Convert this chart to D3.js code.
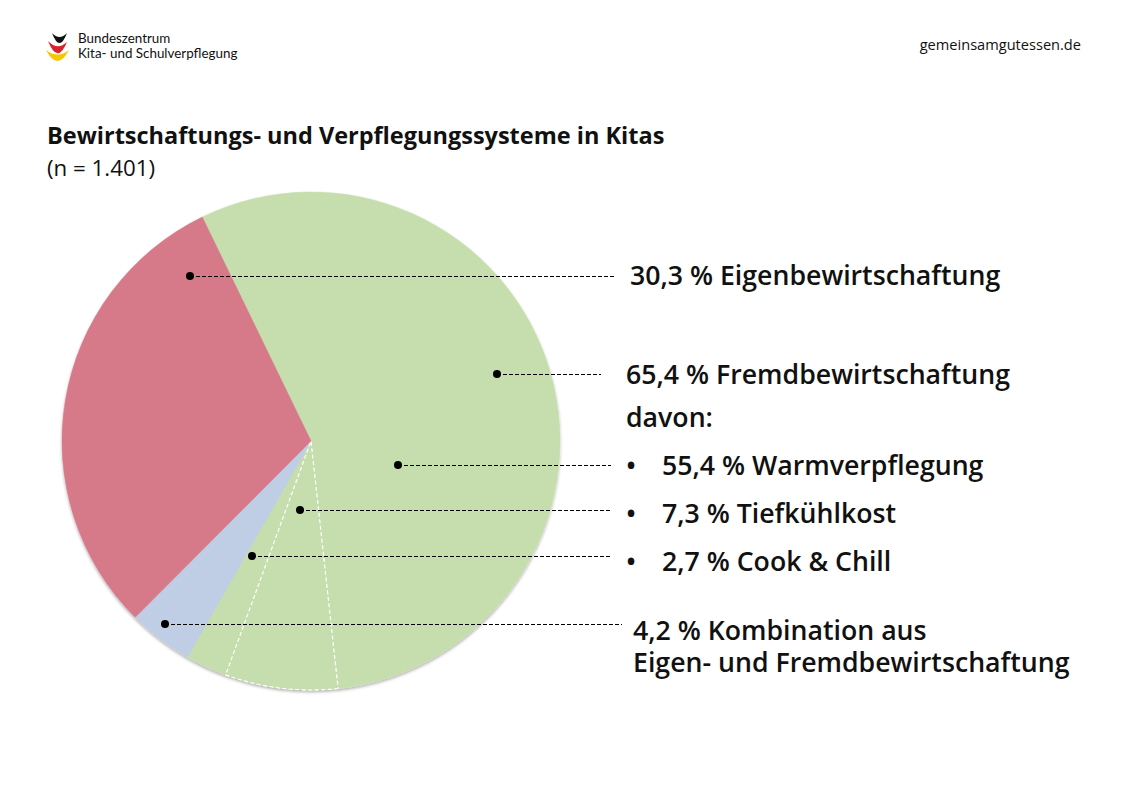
<!DOCTYPE html>
<html>
<head>
<meta charset="utf-8">
<script src="https://cdn.jsdelivr.net/npm/d3@7"></script>
<style>
  body { margin: 0; background: #fff; }
  text { font-family: "Open Sans", sans-serif; fill: #111; }
  .label { font-size: 26.7px; font-weight: 600; }
  .leader { stroke: #000; stroke-width: 1; stroke-dasharray: 4 2; fill: none; shape-rendering: crispEdges; }
</style>
</head>
<body>
<main></main>
<script>
var segments = ["Warmverpflegung", "Tiefkühlkost", "Cook & Chill", "Kombination", "Eigenbewirtschaftung"];
var shares = [55.4, 7.3, 2.7, 4.2, 30.3];
var segmentColors = ["#c6deae", "#c6deae", "#c6deae", "#bfcde5", "#d67a8a"];

var title = "Bewirtschaftungs- und Verpflegungssysteme in Kitas";
var subtitle = "(n = 1.401)";
var labelLines = [
  "30,3 % Eigenbewirtschaftung",
  "65,4 % Fremdbewirtschaftung",
  "davon:",
  "55,4 % Warmverpflegung",
  "7,3 % Tiefkühlkost",
  "2,7 % Cook & Chill",
  "4,2 % Kombination aus",
  "Eigen- und Fremdbewirtschaftung"
];
var logoLines = ["Bundeszentrum", "Kita- und Schulverpflegung"];
var website = "gemeinsamgutessen.de";

var width = 1123;
var height = 794;

var svg = d3.select("main").append("svg")
    .attr("width", width)
    .attr("height", height)
    .style("display", "block");

var defs = svg.append("defs");
var shadow = defs.append("filter")
    .attr("id", "pieShadow")
    .attr("x", "-5%").attr("y", "-5%")
    .attr("width", "110%").attr("height", "110%");
shadow.append("feDropShadow")
    .attr("dx", 0).attr("dy", 2)
    .attr("stdDeviation", 1.5)
    .attr("flood-color", "#000")
    .attr("flood-opacity", 0.3);

// pie
var cx = 311, cy = 441, radius = 249;
var startAngle = -25.9 * Math.PI / 180;

var pie = d3.pie()
    .sort(null)
    .startAngle(startAngle)
    .endAngle(startAngle + 2 * Math.PI);
var arc = d3.arc().innerRadius(0).outerRadius(radius);
var arcs = pie(shares);

var pieGroup = svg.append("g").attr("transform", "translate(" + cx + "," + cy + ")");

pieGroup.append("g")
    .attr("filter", "url(#pieShadow)")
  .selectAll("path")
  .data(arcs)
  .join("path")
    .attr("d", arc)
    .attr("fill", function(d, i) { return segmentColors[i]; })
    .attr("stroke", function(d, i) { return segmentColors[i]; })
    .attr("stroke-width", 0.5);

// Tiefkühlkost and Cook & Chill are only set off by white dashes
pieGroup.append("path")
    .attr("d", arc(arcs[1]))
    .attr("fill", "none")
    .attr("stroke", "#fff")
    .attr("stroke-width", 1.2)
    .attr("stroke-dasharray", "4 2.5");

// leaders, one per label
var leaders = [
  { x1: 190, x2: 614, y: 276 },
  { x1: 497, x2: 601, y: 374 },
  { x1: 398, x2: 611, y: 465 },
  { x1: 300, x2: 611, y: 510 },
  { x1: 252, x2: 611, y: 556 },
  { x1: 165, x2: 622, y: 624 }
];
svg.selectAll("line.leader")
  .data(leaders)
  .join("line")
    .attr("class", "leader")
    .attr("x1", function(d) { return d.x1; })
    .attr("x2", function(d) { return d.x2; })
    .attr("y1", function(d) { return d.y; })
    .attr("y2", function(d) { return d.y; });
svg.selectAll("circle.dot")
  .data(leaders)
  .join("circle")
    .attr("class", "dot")
    .attr("cx", function(d) { return d.x1; })
    .attr("cy", function(d) { return d.y; })
    .attr("r", 4)
    .attr("fill", "#000");

// labels
var labelPos = [[630, 285], [626, 384], [626, 427], [662, 475], [662, 523], [662, 571], [633, 640], [633, 672]];
svg.selectAll("text.label")
  .data(labelLines)
  .join("text")
    .attr("class", "label")
    .attr("x", function(d, i) { return labelPos[i][0]; })
    .attr("y", function(d, i) { return labelPos[i][1]; })
    .text(function(d) { return d; });

svg.selectAll("text.bullet")
  .data([475, 523, 571])
  .join("text")
    .attr("class", "bullet label")
    .attr("x", 626)
    .attr("y", function(d) { return d; })
    .text("•");

// heading
svg.append("text")
    .attr("x", 47).attr("y", 144)
    .style("font-size", "23.5px").style("font-weight", 700)
    .text(title);
svg.append("text")
    .attr("x", 47).attr("y", 176)
    .style("font-size", "22.3px")
    .text(subtitle);

svg.append("text")
    .attr("x", 1081).attr("y", 50)
    .attr("text-anchor", "end")
    .style("font-size", "14.6px")
    .style("font-weight", 500)
    .text(website);

// logo
var logo = svg.append("g");
var logoArcs = [
  { color: "#111", x0: 52, y0: 33, x1: 67, y1: 33, outer: 20, inner: 8 },
  { color: "#d8232a", x0: 48, y0: 41, x1: 67, y1: 42, outer: 24, inner: 10 },
  { color: "#f7c600", x0: 46, y0: 50, x1: 69, y1: 50, outer: 22, inner: 9 }
];
logo.selectAll("path")
  .data(logoArcs)
  .join("path")
    .attr("d", function(d) {
      var p = d3.path();
      var mx = (d.x0 + d.x1) / 2;
      p.moveTo(d.x0, d.y0);
      p.quadraticCurveTo(mx, d.y0 + d.outer, d.x1, d.y1);
      p.quadraticCurveTo(mx, d.y0 + d.inner, d.x0, d.y0);
      p.closePath();
      return p.toString();
    })
    .attr("fill", function(d) { return d.color; });
logo.selectAll("text")
  .data(logoLines)
  .join("text")
    .attr("x", 78)
    .attr("y", function(d, i) { return 43 + i * 15; })
    .style("font-family", "Lato, sans-serif")
    .style("font-size", "13.4px")
    .text(function(d) { return d; });
</script>
</body>
</html>
